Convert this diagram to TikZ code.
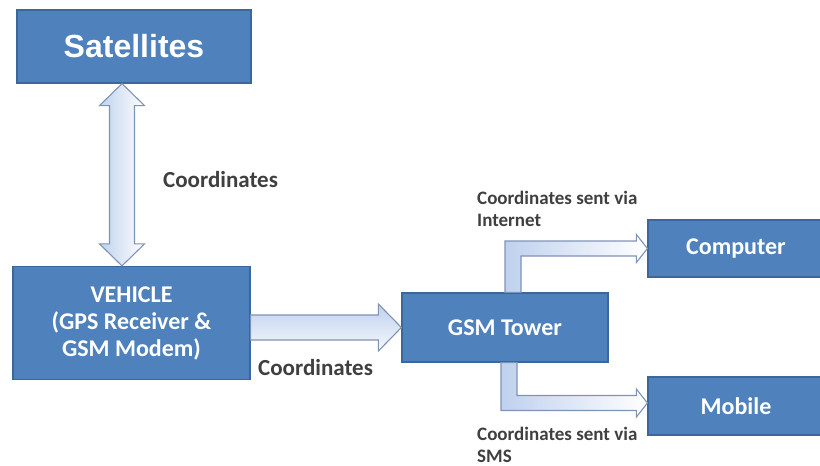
\documentclass[tikz,border=0pt]{standalone}
\usepackage{fontspec}
\setmainfont{Carlito}
\newfontfamily\arialfont{Liberation Sans}
\usetikzlibrary{calc}

\definecolor{boxblue}{HTML}{4F81BD}
\definecolor{boxline}{HTML}{3B679C}
\definecolor{arrowblue}{HTML}{BFD1EE}
\definecolor{arrowline}{HTML}{7F93B5}
\definecolor{labelgray}{HTML}{3F3F3F}

\tikzset{
  bluebox/.style={draw=boxline, line width=1.2pt, fill=boxblue, text=white,
    font=\bfseries\fontsize{24}{27}\selectfont, align=center, inner sep=0pt},
  blockarrow/.style={draw=arrowline, line width=1.1pt, line join=miter},
  vshade/.style={left color=arrowblue, right color=white},
  hshade/.style={top color=arrowblue, bottom color=white!85!arrowblue},
  lbl/.style={text=labelgray, font=\bfseries\fontsize{23}{26}\selectfont, inner sep=0pt, anchor=west},
  smalllbl/.style={text=labelgray, font=\bfseries\fontsize{19}{22}\selectfont, inner sep=0pt,
    anchor=west, align=left}
}

\begin{document}
\begin{tikzpicture}[x=1pt, y=-1pt]

    \useasboundingbox (0,0) rectangle (820,466);

    % boxes
    \node[bluebox, minimum width=234pt, minimum height=73pt,
      font=\arialfont\bfseries\fontsize{32}{36}\selectfont] (sat) at (134,46.5) {Satellites};
    \node[bluebox, minimum width=237pt, minimum height=113pt] (veh) at (131.5,323)
      {VEHICLE\\(GPS Receiver \&\\GSM Modem)};
    \node[bluebox, minimum width=206pt, minimum height=69pt] (gsm) at (505,327.5) {GSM Tower};
    \node[bluebox, minimum width=176pt, minimum height=57pt] (comp) at (736,248.5) {Computer};
    \node[bluebox, minimum width=176pt, minimum height=58pt] (mob) at (736,406) {Mobile};

    % satellites <-> vehicle
    \coordinate (ut) at ($(sat.south)+(-12,0)$);
    \coordinate (ub) at ($(veh.north)+(-9.5,0)$);
    \draw[blockarrow, vshade] (ut) -- ($(ut)+(22.5,22)$) -- ($(ut)+(12.5,22)$)
      -- ($(ub)+(12.5,-22)$) -- ($(ub)+(22.5,-22)$) -- (ub)
      -- ($(ub)+(-22.5,-22)$) -- ($(ub)+(-12.5,-22)$)
      -- ($(ut)+(-12.5,22)$) -- ($(ut)+(-22.5,22)$) -- cycle;

    % vehicle -> gsm tower
    \coordinate (hl) at (veh.east |- gsm.west);
    \draw[blockarrow, hshade] ($(hl)+(0,-12.5)$) -- ($(gsm.west)+(-23,-12.5)$)
      -- ($(gsm.west)+(-23,-23.5)$) -- (gsm.west) -- ($(gsm.west)+(-23,23.5)$)
      -- ($(gsm.west)+(-23,12.5)$) -- ($(hl)+(0,12.5)$) -- cycle;

    % gsm tower -> computer
    \coordinate (eu) at ($(gsm.north)+(8,0)$);
    \draw[blockarrow, vshade] ($(eu)+(-8,0)$) -- ($(eu |- comp.west)+(-8,-7.5)$)
      -- ($(comp.west)+(-11,-7.5)$) -- ($(comp.west)+(-11,-14)$) -- (comp.west)
      -- ($(comp.west)+(-11,14)$) -- ($(comp.west)+(-11,7.5)$)
      -- ($(eu |- comp.west)+(8,7.5)$) -- ($(eu)+(8,0)$) -- cycle;

    % gsm tower -> mobile
    \coordinate (ed) at ($(gsm.south)+(4,0)$);
    \coordinate (mt) at ($(mob.west)+(0,-3)$);
    \draw[blockarrow, vshade] ($(ed)+(-8,0)$) -- ($(ed |- mt)+(-8,7.5)$)
      -- ($(mt)+(-11,7.5)$) -- ($(mt)+(-11,14)$) -- (mt)
      -- ($(mt)+(-11,-14)$) -- ($(mt)+(-11,-7.5)$)
      -- ($(ed |- mt)+(8,-7.5)$) -- ($(ed)+(8,0)$) -- cycle;

    % labels
    \node[lbl] (lup) at (163,180) {Coordinates};
    \node[lbl] (lmid) at (258,368) {Coordinates};
    \node[smalllbl] (lnet) at (477,209) {Coordinates sent via\\Internet};
    \node[smalllbl] (lsms) at (477,445) {Coordinates sent via\\SMS};

\end{tikzpicture}
\end{document}
